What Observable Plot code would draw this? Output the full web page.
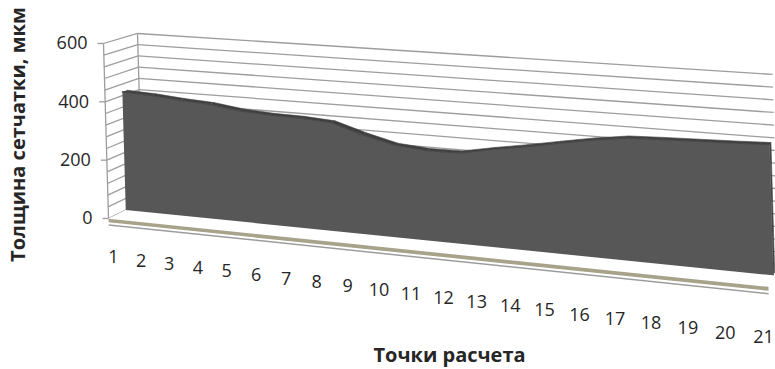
<!DOCTYPE html>
<html>
<head>
<meta charset="utf-8">
<script src="https://cdn.jsdelivr.net/npm/d3@7"></script>
<script src="https://cdn.jsdelivr.net/npm/@observablehq/plot@0.6"></script>
<style>
  html, body { margin: 0; padding: 0; background: #fff; }
  #chart { width: 775px; height: 369px; overflow: hidden; }
</style>
</head>
<body>
<div id="chart"></div>
<script>
// Retinal thickness at 21 calculation points
const categories = ["1", "2", "3", "4", "5", "6", "7", "8", "9", "10", "11",
                    "12", "13", "14", "15", "16", "17", "18", "19", "20", "21"];
const thickness = [413, 408, 399, 393, 379, 372, 370, 363, 331, 305, 296,
                   297, 317, 335, 355, 374, 389, 393, 396, 399, 403];
const valueTicks = [0, 200, 400, 600];
const gridValues = d3.range(0, 601, 40);
const xTitle = "Точки расчета";
const yTitle = "Толщина сетчатки, мкм";

// Plot scales: category -> position across the box (0..1), value -> height (0..1)
const cat = Plot.scale({x: {type: "point", domain: categories, range: [0, 1], padding: 0}});
const val = Plot.scale({y: {type: "linear", domain: [0, 600], range: [0, 1]}});

// Perspective camera for the 3-D box: (t across, h up, d into depth) -> screen
const cam = {ax: 567.8, ay: -5, az: 39.5, a0: 108,
             bx: 33.7, by: -175, bz: -8.7, b0: 218,
             cx: -0.12, cz: 0.04};
function project(t, h, d) {
  const w = 1 + cam.cx * t + cam.cz * d;
  return [(cam.ax * t + cam.ay * h + cam.az * d + cam.a0) / w,
          (cam.bx * t + cam.by * h + cam.bz * d + cam.b0) / w];
}
// Category labels lie on their own receding line below the floor
const labelCam = {ax: 531, a0: 113, bx: 27.4, b0: 257, cx: -0.156};
function projectLabel(t) {
  const w = 1 + labelCam.cx * t;
  return [(labelCam.ax * t + labelCam.a0) / w, (labelCam.bx * t + labelCam.b0) / w];
}
const depth = {front: 0, back: 1, areaFront: 0.5, areaBack: 0.64};
const floorDrop = val.apply(22);          // thickness of the floor slab
const tickLength = 6;

function seg(a, b) {
  const [x1, y1] = project(...a), [x2, y2] = project(...b);
  return {x1, y1, x2, y2};
}
function poly(id, pts) {
  return pts.map(p => { const [x, y] = project(...p); return {id, x, y}; });
}

// Gridlines on the back wall and on the left side wall
const backGrid = gridValues.map(v => seg([0, val.apply(v), depth.back], [1, val.apply(v), depth.back]));
const sideGrid = gridValues.map(v => seg([0, val.apply(v), depth.front], [0, val.apply(v), depth.back]));
const edges = [
  seg([0, 0, depth.front], [0, 1, depth.front]),
  seg([0, 0, depth.back], [0, 1, depth.back])
];

// Floor: top surface, front face, coloured band, lower edge
const floorTop = poly("top", [[0, 0, 0], [1, 0, 0], [1, 0, 1], [0, 0, 1]]);
const floorFace = poly("face", [[0, 0, 0], [1, 0, 0], [1, -floorDrop, 0], [0, -floorDrop, 0]]);
const floorBand = poly("band", [[0, -val.apply(1), 0], [1, -val.apply(1), 0],
                                [1, -val.apply(13), 0], [0, -val.apply(13), 0]]);
const floorEdge = [seg([0, -floorDrop, 0], [1, -floorDrop, 0])];

// Area ribbon: front face, top faces between samples, right end face
const tOf = c => cat.apply(c);
const areaFront = poly("front", [
  ...thickness.map((v, i) => [tOf(categories[i]), val.apply(v), depth.areaFront]),
  [1, 0, depth.areaFront], [0, 0, depth.areaFront]
]);
const areaTop = [];
for (let i = 0; i < thickness.length - 1; i++) {
  const t0 = tOf(categories[i]), t1 = tOf(categories[i + 1]);
  const h0 = val.apply(thickness[i]), h1 = val.apply(thickness[i + 1]);
  areaTop.push(...poly("s" + i, [[t0, h0, depth.areaFront], [t1, h1, depth.areaFront],
                                  [t1, h1, depth.areaBack], [t0, h0, depth.areaBack]]));
}
const last = val.apply(thickness[thickness.length - 1]);
const areaSide = poly("side", [[1, 0, depth.areaFront], [1, last, depth.areaFront],
                               [1, last, depth.areaBack], [1, 0, depth.areaBack]]);
const areaEdge = thickness.map((v, i) => {
  const [x, y] = project(tOf(categories[i]), val.apply(v), depth.areaFront);
  return {x, y};
});

// Axis ticks and labels
const yTicks = valueTicks.map(v => {
  const [x, y] = project(0, val.apply(v), depth.front);
  return {x, y, x0: x - tickLength, label: String(v)};
});
const xLabels = categories.map(c => {
  const [x, y] = projectLabel(tOf(c));
  return {x, y, label: c};
});

const gridColor = "#9d9d9d";
const font = "'Open Sans', 'Noto Sans', sans-serif";

const chart = Plot.plot({
  width: 775,
  height: 369,
  margin: 0,
  x: {type: "identity", axis: null},
  y: {type: "identity", axis: null},
  style: {fontFamily: font, background: "#fff", color: "#262626"},
  marks: [
    Plot.link(backGrid, {x1: "x1", y1: "y1", x2: "x2", y2: "y2", stroke: gridColor, strokeWidth: 1.3}),
    Plot.link(sideGrid, {x1: "x1", y1: "y1", x2: "x2", y2: "y2", stroke: gridColor, strokeWidth: 1.3}),
    Plot.link(edges, {x1: "x1", y1: "y1", x2: "x2", y2: "y2", stroke: gridColor, strokeWidth: 1.3}),
    Plot.link(yTicks, {x1: "x0", y1: "y", x2: "x", y2: "y", stroke: gridColor, strokeWidth: 1.3}),
    Plot.line(floorTop, {x: "x", y: "y", z: "id", fill: "#fff", stroke: "none"}),
    Plot.line(floorFace, {x: "x", y: "y", z: "id", fill: "#fff", stroke: "none"}),
    Plot.line(floorBand, {x: "x", y: "y", z: "id", fill: "#a7a28a", stroke: "none"}),
    Plot.link(floorEdge, {x1: "x1", y1: "y1", x2: "x2", y2: "y2", stroke: gridColor, strokeWidth: 1.5}),
    Plot.line(areaTop, {x: "x", y: "y", z: "id", fill: "#3f3f3f", stroke: "#3f3f3f", strokeWidth: 0.6}),
    Plot.line(areaSide, {x: "x", y: "y", z: "id", fill: "#464646", stroke: "#464646", strokeWidth: 0.6}),
    Plot.line(areaFront, {x: "x", y: "y", z: "id", fill: "#575757", stroke: "none"}),
    Plot.line(areaEdge, {x: "x", y: "y", stroke: "#484848", strokeWidth: 1.2}),
    Plot.text(yTicks, {x: "x", y: "y", text: "label", dx: -16, textAnchor: "end", fontSize: 18}),
    Plot.text(xLabels, {x: "x", y: "y", text: "label", fontSize: 18}),
    Plot.text([xTitle], {x: () => 449, y: () => 355, text: d => d, fontSize: 20, fontWeight: "bold"}),
    Plot.text([yTitle], {x: () => 18, y: () => 134, text: d => d, rotate: -90, fontSize: 20, fontWeight: "bold"})
  ]
});
document.getElementById("chart").append(chart);
</script>
</body>
</html>
